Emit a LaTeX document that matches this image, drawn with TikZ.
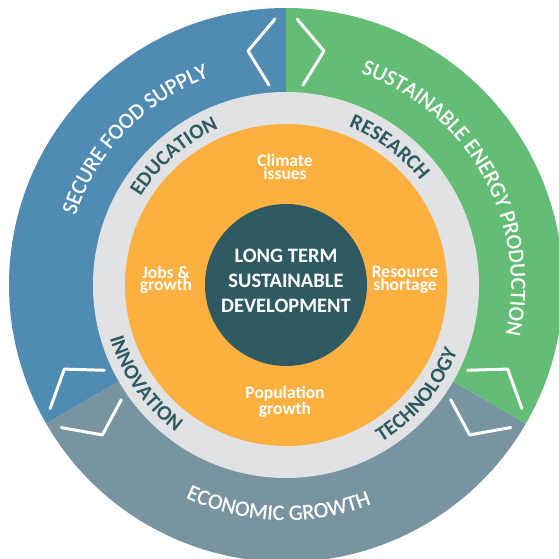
\documentclass[tikz,border=0pt]{standalone}
\usepackage{fontspec}
\setmainfont{Carlito}
\newfontfamily\bandfamily[FakeBold=0.7]{Carlito}
\usetikzlibrary{decorations.text}
\definecolor{foodblue}{RGB}{80,139,180}
\definecolor{energygreen}{RGB}{99,189,117}
\definecolor{econgrey}{RGB}{120,148,161}
\definecolor{ringgrey}{RGB}{225,226,228}
\definecolor{issueorange}{RGB}{251,176,64}
\definecolor{coreteal}{RGB}{47,90,98}
\newcommand\bandfont{\bandfamily\fontsize{22}{22}\selectfont}
\newcommand\ringfont{\bfseries\fontsize{21}{21}\selectfont}
\begin{document}
\begin{tikzpicture}[x=1pt,y=1pt,
  issue/.style={text=white,font=\bfseries\fontsize{17.5}{12.5}\selectfont,align=center,inner sep=0pt},
  core/.style={text=white,font=\bfseries\fontsize{20.5}{25}\selectfont,align=center,inner sep=0pt},
  chevron/.style={draw=white,line width=3pt,line cap=round,line join=round},
  band/.style={decorate,decoration={text along path,text align=center,text color=white,text={|\bandfont|#1}}},
  ring/.style={decorate,decoration={text along path,text align=center,text color=coreteal,text={|\ringfont|#1}}}]

\useasboundingbox (-286,-274) rectangle (273,285);
\clip (-286,-274) rectangle (273,285);
  \fill[foodblue] (0,0) -- (90:277) arc[start angle=90,end angle=210,radius=277pt] -- cycle;
  \fill[econgrey] (0,0) -- (210:277) arc[start angle=210,end angle=330,radius=277pt] -- cycle;
  \fill[energygreen] (0,0) -- (-30:277) arc[start angle=-30,end angle=90,radius=277pt] -- cycle;
  \foreach \turn in {0,120,240}
    {\begin{scope}[rotate=\turn]
      \draw[chevron] (-11,266) -- (-38,234) -- (-17,200);
      \draw[chevron] (11,266) -- (38,234) -- (17,200);
    \end{scope}}
  \fill[ringgrey] (0,0) circle[radius=193pt];
  \fill[issueorange] (0,0) circle[radius=161pt];
  \fill[coreteal] (0,0) circle[radius=81pt];
  \path[band={SECURE FOOD SUPPLY}] (186:222) arc[start angle=186,end angle=86,radius=222pt];
  \path[band={SUSTAINABLE ENERGY PRODUCTION}] (99:225) arc[start angle=99,end angle=-41,radius=225pt];
  \path[band={ECONOMIC GROWTH}] (208:235) arc[start angle=208,end angle=328,radius=235pt];
  \path[ring={EDUCATION}] (181:170) arc[start angle=181,end angle=81,radius=170pt];
  \path[ring={RESEARCH}] (103:170) arc[start angle=103,end angle=3,radius=170pt];
  \path[ring={INNOVATION}] (165:184) arc[start angle=165,end angle=265,radius=184pt];
  \path[ring={TECHNOLOGY}] (270:184) arc[start angle=270,end angle=370,radius=184pt];
  \node[core] (ltsd) at (0,4) {LONG TERM\\SUSTAINABLE\\DEVELOPMENT};
  \node[issue] (climate) at (-1,118) {Climate\\issues};
  \node[issue] (jobs) at (-120,5) {Jobs \&\\growth};
  \node[issue] (resource) at (119,5) {Resource\\shortage};
  \node[issue] (population) at (-1,-117) {Population\\growth};
 \end{tikzpicture}
\end{document}
